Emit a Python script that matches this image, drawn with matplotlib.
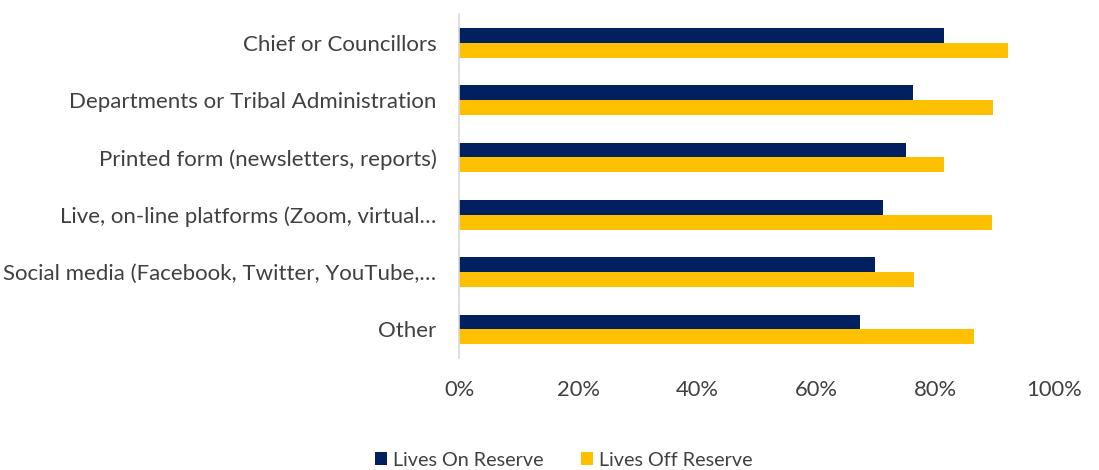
import numpy as np
import matplotlib
matplotlib.use("Agg")
import matplotlib.pyplot as plt

plt.rcParams['font.family'] = ['Lato', 'DejaVu Sans']

categories = [
    "Chief or Councillors",
    "Departments or Tribal Administration",
    "Printed form (newsletters, reports)",
    "Live, on-line platforms (Zoom, virtual\u2026",
    "Social media (Facebook, Twitter, YouTube,\u2026",
    "Other",
]
on_reserve = [0.815, 0.763, 0.752, 0.712, 0.699, 0.673]
off_reserve = [0.922, 0.897, 0.815, 0.895, 0.764, 0.865]
xticks = [0, 0.2, 0.4, 0.6, 0.8, 1.0]
xtick_labels = ["0%", "20%", "40%", "60%", "80%", "100%"]

NAVY = "#002060"
GOLD = "#FFC000"
TEXT = "#404040"

fig = plt.figure(figsize=(10.99, 4.70), dpi=100)
ax = fig.add_axes([0.418, 0.238, 0.541, 0.732])

y = np.arange(len(categories))
h = 0.257
ax.barh(y - h / 2, on_reserve, height=h, color=NAVY, label="Lives On Reserve")
ax.barh(y + h / 2, off_reserve, height=h, color=GOLD, label="Lives Off Reserve")

ax.set_ylim(len(categories) - 0.5, -0.5)
ax.set_xlim(0, 1.0)
ax.set_yticks(y)
ax.set_yticklabels(categories, fontsize=16, color=TEXT)
ax.set_xticks(xticks)
ax.set_xticklabels(xtick_labels, fontsize=15.8, color=TEXT)
ax.tick_params(axis="y", length=0, pad=16.5)
ax.tick_params(axis="x", length=0, pad=16)

for side in ["top", "right", "bottom"]:
    ax.spines[side].set_visible(False)
ax.spines["left"].set_color("#d9d9d9")
ax.spines["left"].set_linewidth(1.2)

leg = fig.legend(loc="lower center", bbox_to_anchor=(0.513, -0.035), ncol=2,
                 frameon=False, fontsize=14.2, handlelength=0.62, handleheight=0.62,
                 handletextpad=0.3, columnspacing=1.9)
for t in leg.get_texts():
    t.set_color(TEXT)

fig.savefig("out.png", dpi=100)
